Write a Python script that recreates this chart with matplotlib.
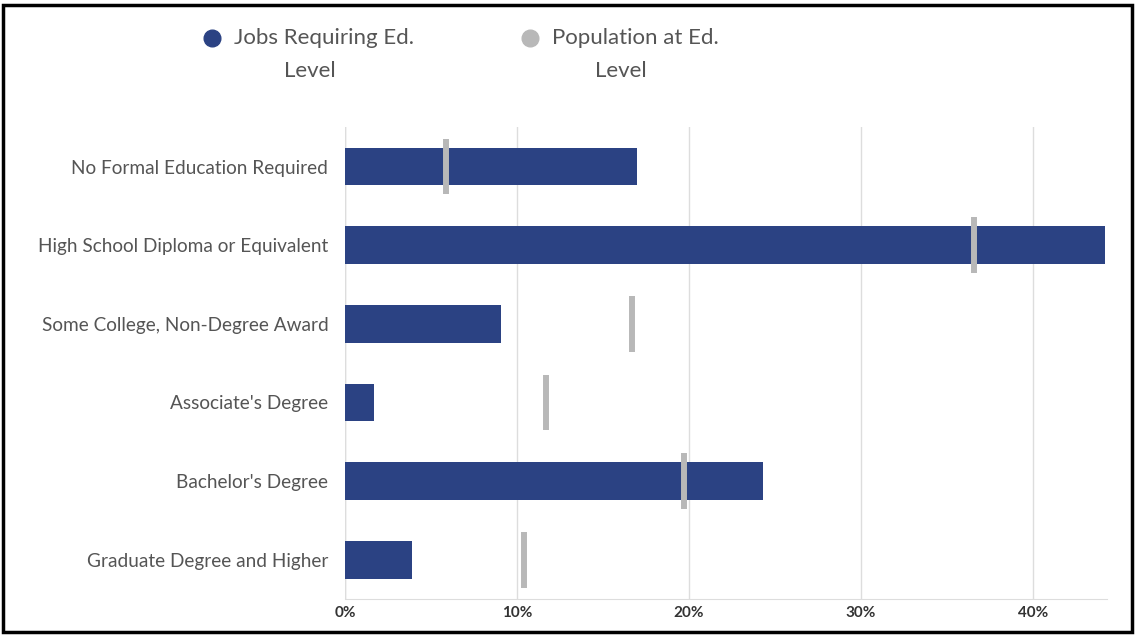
import numpy as np
import matplotlib.pyplot as plt
from matplotlib.lines import Line2D
from matplotlib.patches import Rectangle

categories = ['No Formal Education Required',
              'High School Diploma or Equivalent',
              'Some College, Non-Degree Award',
              "Associate's Degree",
              "Bachelor's Degree",
              'Graduate Degree and Higher']
jobs_pct = [17.0, 44.2, 9.1, 1.7, 24.3, 3.9]
pop_pct = [5.9, 36.6, 16.7, 11.7, 19.7, 10.4]
xticks = [0, 10, 20, 30, 40]
xticklabels = ['0%', '10%', '20%', '30%', '40%']

blue = '#2b4283'
grey = '#b8b8b8'
txt = '#555555'

plt.rcParams['font.family'] = ['Lato', 'DejaVu Sans']

W, H = 1135, 636
fig = plt.figure(figsize=(W / 100, H / 100), dpi=100)
ax = fig.add_axes([0.304, 0.058, 0.671, 0.742])

y = np.arange(len(categories))
ax.barh(y, jobs_pct, height=0.48, color=blue, zorder=2)
ax.vlines(pop_pct, y - 0.355, y + 0.355, colors=grey, linewidth=4.3, zorder=3)

ax.set_ylim(len(categories) - 0.5, -0.5)
ax.set_xlim(0, 44.3)
ax.set_yticks(y)
ax.set_yticklabels(categories, fontsize=13.7, color=txt)
ax.set_xticks(xticks)
ax.set_xticklabels(xticklabels, fontsize=11, fontweight='bold', color='#333333')
ax.tick_params(axis='both', length=0)
ax.tick_params(axis='y', pad=12)
ax.tick_params(axis='x', pad=5)
ax.grid(axis='x', color='#dddddd', linewidth=1, zorder=0)
for s in ['top', 'right', 'left']:
    ax.spines[s].set_visible(False)
ax.spines['bottom'].set_color('#dddddd')
ax.axvline(0, color='#dddddd', linewidth=1, zorder=0)

# legend drawn by hand: dot + first line, second line centred under the item
legend_items = [(blue, 'Jobs Requiring Ed.', 212, 310),
                (grey, 'Population at Ed.', 530, 621)]
for col, label, xdot, xmid in legend_items:
    fig.add_artist(Line2D([xdot / W], [1 - 38 / H], marker='o', markersize=12,
                          color=col, linestyle='none', transform=fig.transFigure))
    fig.text((xdot + 22) / W, 1 - 38 / H, label, fontsize=16, color=txt,
             ha='left', va='center')
    fig.text(xmid / W, 1 - 71 / H, 'Level', fontsize=16, color=txt,
             ha='center', va='center')

fig.add_artist(Rectangle((0.003, 0.006), 0.994, 0.986, transform=fig.transFigure,
                         fill=False, edgecolor='black', linewidth=2.5))

fig.savefig('out.png', dpi=100)
